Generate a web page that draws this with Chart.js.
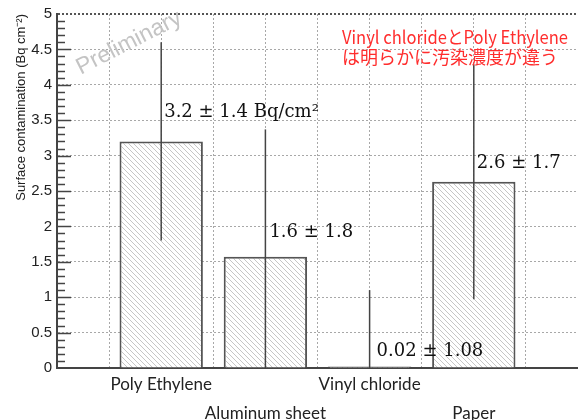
<!DOCTYPE html>
<html>
  <head>
    <title>Surface contamination</title>
    <script src="https://cdn.jsdelivr.net/npm/chart.js"></script>
    <style>
      body,
      html {
        margin: 0;
        padding: 0;
        width: 100%;
        height: 100%;
        overflow: hidden;
        background-color: white;
      }
      canvas {
        display: block;
      }
    </style>
  </head>
  <body>
    <canvas id="chartCanvas" width="580" height="420"></canvas>
    <script>
      // values
      const categories = ["Poly Ethylene", "Aluminum sheet", "Vinyl chloride", "Paper"];
      const contamination = [3.2, 1.57, 0.02, 2.63];
      const uncertainty = [1.4, 1.8, 1.08, 1.66];
      const valueLabels = ["3.2 ± 1.4 Bq/cm²", "1.6 ± 1.8", "0.02 ± 1.08", "2.6 ± 1.7"];
      const noteLines = ["Vinyl chlorideとPoly Ethylene", "は明らかに汚染濃度が違う"];
      const watermark = "Preliminary";
      const yTitle = "Surface contamination (Bq cm⁻²)";

      // diagonal hatch fill like the ROOT histogram style
      function hatchPattern() {
        const c = document.createElement("canvas");
        c.width = 5;
        c.height = 5;
        const g = c.getContext("2d");
        g.fillStyle = "white";
        g.fillRect(0, 0, 5, 5);
        g.strokeStyle = "#c6c6c6";
        g.lineWidth = 1;
        g.beginPath();
        for (const x0 of [-5, 0, 5]) {
          g.moveTo(x0, 0);
          g.lineTo(x0 + 5, 5);
        }
        g.stroke();
        return g.createPattern(c, "repeat");
      }

      // small inside ticks on the y axis (every 0.1, longer every 0.5)
      const minorTicks = {
        id: "minorTicks",
        afterDraw(chart) {
          const { ctx, chartArea, scales } = chart;
          const y = scales.y;
          ctx.save();
          ctx.strokeStyle = "#444";
          ctx.lineWidth = 1.5;
          ctx.setLineDash([]);
          for (let k = 1; k < 50; k++) {
            const py = Math.round(y.getPixelForValue(k / 10)) + 0.5;
            const len = k % 5 === 0 ? 14 : 8;
            ctx.beginPath();
            ctx.moveTo(chartArea.left, py);
            ctx.lineTo(chartArea.left + len, py);
            ctx.stroke();
          }
          ctx.restore();
        },
      };

      const errorBars = {
        id: "errorBars",
        afterDatasetsDraw(chart, args, opts) {
          const { ctx, chartArea, scales } = chart;
          const y = scales.y;
          const meta = chart.getDatasetMeta(0);
          ctx.save();
          ctx.strokeStyle = "#444";
          ctx.lineWidth = 1.5;
          meta.data.forEach((bar, i) => {
            const hi = y.getPixelForValue(contamination[i] + uncertainty[i]);
            const lo = Math.min(chartArea.bottom, y.getPixelForValue(contamination[i] - uncertainty[i]));
            ctx.beginPath();
            ctx.moveTo(bar.x, hi);
            ctx.lineTo(bar.x, lo);
            ctx.stroke();
          });

          // value annotations
          ctx.fillStyle = "#111";
          ctx.font = '18px "DejaVu Serif"';
          ctx.textAlign = "left";
          ctx.textBaseline = "alphabetic";
          meta.data.forEach((bar, i) => {
            ctx.fillText(valueLabels[i], bar.x + opts.dx[i], bar.y - opts.lift[i]);
          });
          ctx.restore();
        },
        afterDraw(chart) {
          const ctx = chart.ctx;
          ctx.save();
          // watermark
          ctx.translate(129, 43);
          ctx.rotate((-27 * Math.PI) / 180);
          ctx.fillStyle = "#c4c4c4";
          ctx.font = '23px "Liberation Sans"';
          ctx.textAlign = "center";
          ctx.textBaseline = "middle";
          ctx.fillText(watermark, 0, 0);
          ctx.restore();

          // red note
          ctx.save();
          ctx.fillStyle = "#ff2d2d";
          ctx.font = '18px "Noto Sans CJK JP"';
          ctx.textAlign = "left";
          ctx.textBaseline = "middle";
          ctx.fillText(noteLines[0], 342, 37, 226);
          ctx.fillText(noteLines[1], 342, 57, 220);
          ctx.restore();
        },
      };

      var ctx = document.getElementById("chartCanvas");

      var chart = new Chart(ctx, {
        type: "bar",
        data: {
          datasets: [
            {
              data: categories.map((c, i) => ({ x: 2 * (i + 1), y: contamination[i] })),
              backgroundColor: hatchPattern(),
              borderColor: "#555",
              borderWidth: 2,
              categoryPercentage: 1.6, // ticks are 1 unit apart, bars span 1.6 units
              barPercentage: 1,
            },
          ],
        },
        plugins: [minorTicks, errorBars],
        options: {
          responsive: false,
          animation: false,
          devicePixelRatio: 1,
          layout: { padding: { top: 11, left: 0, right: 0, bottom: 0 } },
          plugins: {
            legend: { display: false },
            tooltip: { enabled: false },
            errorBars: {
              dx: [3, 4, 7, 3],
              lift: [24, 20, 11, 14],
            },
          },
          scales: {
            x: {
              type: "linear",
              min: 0,
              max: 10,
              offset: false,
              afterFit: (s) => {
                s.height = 52;
              },
              ticks: {
                stepSize: 1,
                autoSkip: false,
                maxRotation: 0,
                padding: 2,
                color: "#222",
                font: { family: "Lato", size: 17, lineHeight: 1.7 },
                callback: (v) => {
                  const i = v / 2 - 1;
                  if (v % 2 !== 0 || i < 0 || i >= categories.length) return "";
                  return i % 2 === 0 ? categories[i] : ["", categories[i]];
                },
              },
              grid: { color: "#a8a8a8", lineWidth: 1, drawTicks: false, offset: false },
              border: { display: true, color: "#444", width: 2, dash: [2, 2] },
            },
            y: {
              min: 0,
              max: 5,
              afterFit: (s) => {
                s.width = 57;
              },
              ticks: {
                stepSize: 0.5,
                padding: 5,
                color: "#222",
                font: { family: "Liberation Sans", size: 15 },
                callback: (v) => String(v),
              },
              grid: {
                color: (c) => (c.tick && c.tick.value === 5 ? "#555" : "#a8a8a8"),
                lineWidth: (c) => (c.tick && c.tick.value === 5 ? 2 : 1),
                drawTicks: false,
              },
              border: { display: true, color: "#444", width: 2, dash: [2, 2] },
              title: {
                display: true,
                text: yTitle,
                align: "end",
                color: "#222",
                font: { family: "Liberation Sans", size: 13 },
                padding: { top: 14, bottom: 0 },
              },
            },
          },
        },
      });
    </script>
  </body>
</html>
